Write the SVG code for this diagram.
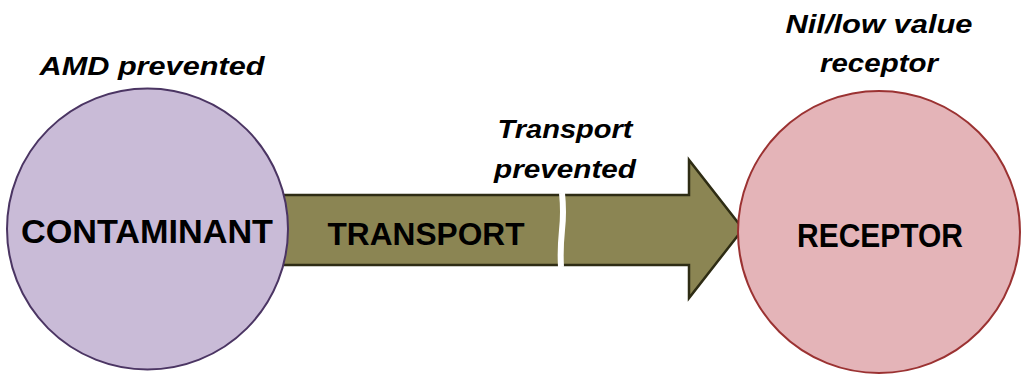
<svg xmlns="http://www.w3.org/2000/svg" width="1022" height="374" viewBox="0 0 1022 374">
<style>
.lbl{font-family:"Liberation Sans",Arial,sans-serif;font-weight:bold;fill:#000;text-anchor:middle}
.note{font-family:"Liberation Sans",Arial,sans-serif;font-weight:bold;font-style:italic;font-size:26px;fill:#000;text-anchor:middle}
</style>
<rect width="1022" height="374" fill="#fff"/>
<g id="connectors">
<path d="M280,195 L689,195 L689,160 L743,229 L689,298 L689,265 L280,265 Z" fill="#8b8553" stroke="#2e2c14" stroke-width="2.5" stroke-linejoin="miter"/>
<path d="M562,193 Q564,212 562,230 Q560,250 561,267" fill="none" stroke="#fff" stroke-width="6"/>
<text class="lbl" x="426" y="245" font-size="32" textLength="197" lengthAdjust="spacingAndGlyphs">TRANSPORT</text>
<text class="note" x="565" y="138" textLength="135" lengthAdjust="spacingAndGlyphs">Transport</text>
<text class="note" x="565" y="178" textLength="142" lengthAdjust="spacingAndGlyphs">prevented</text>
</g>
<g id="contaminant">
<circle cx="147.5" cy="229" r="140.5" fill="#c9bbd7" stroke="#4b3563" stroke-width="2"/>
<text class="lbl" x="147" y="243" font-size="34" textLength="252" lengthAdjust="spacingAndGlyphs">CONTAMINANT</text>
<text class="note" x="152" y="75" textLength="225" lengthAdjust="spacingAndGlyphs">AMD prevented</text>
</g>
<g id="receptor">
<circle cx="879" cy="232" r="141" fill="#e4b4b8" stroke="#9b3232" stroke-width="2"/>
<text class="lbl" x="880" y="247" font-size="33" textLength="166" lengthAdjust="spacingAndGlyphs">RECEPTOR</text>
<text class="note" x="879" y="33" textLength="187" lengthAdjust="spacingAndGlyphs">Nil/low value</text>
<text class="note" x="879" y="72" textLength="118" lengthAdjust="spacingAndGlyphs">receptor</text>
</g>
</svg>
